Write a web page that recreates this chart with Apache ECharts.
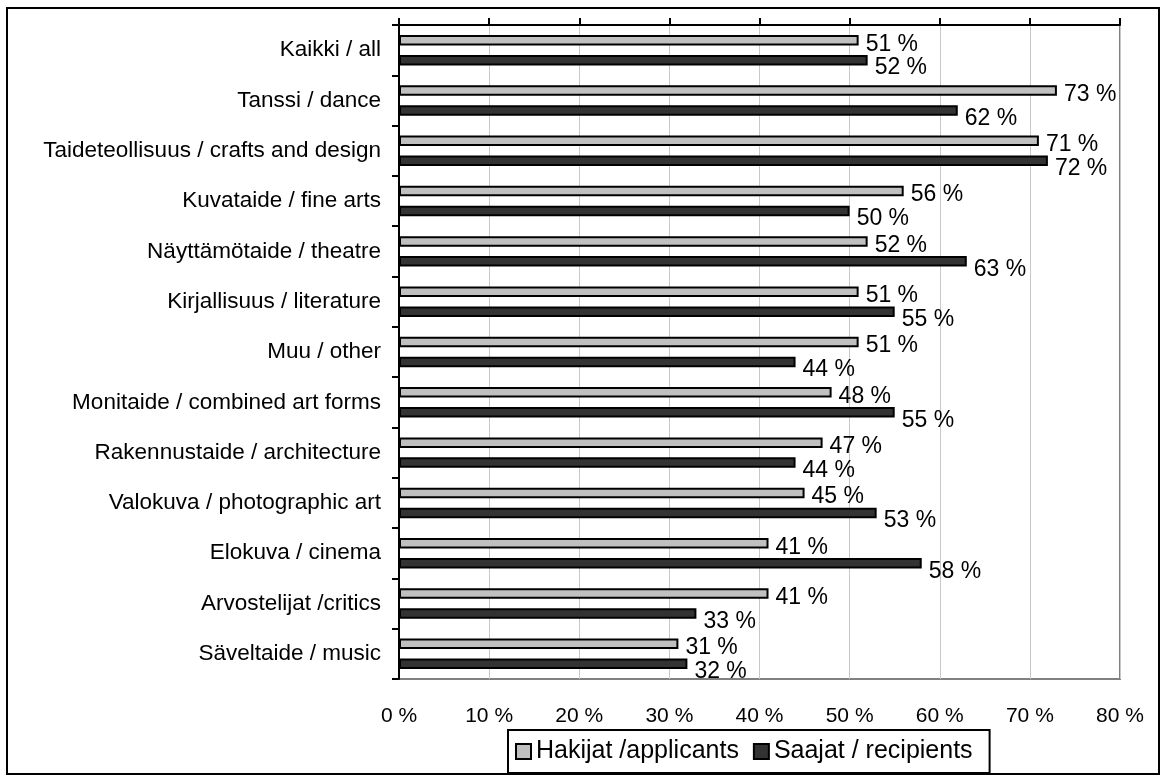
<!DOCTYPE html>
<html><head><meta charset="utf-8">
<script src="https://cdn.jsdelivr.net/npm/echarts@6/dist/echarts.min.js"></script>
<style>html,body{margin:0;padding:0;background:#fff}#c{width:1166px;height:780px}</style>
</head><body><div id="c"></div>
<script>
const categories = ["Kaikki / all","Tanssi / dance","Taideteollisuus / crafts and design","Kuvataide / fine arts","Näyttämötaide / theatre","Kirjallisuus / literature","Muu / other","Monitaide / combined art forms","Rakennustaide / architecture","Valokuva / photographic art","Elokuva / cinema","Arvostelijat /critics","Säveltaide / music"];
const applicants = [51,73,71,56,52,51,51,48,47,45,41,41,31];
const recipients = [52,62,72,50,63,55,44,55,44,53,58,33,32];
const seriesNames = ["Hakijat /applicants","Saajat / recipients"];
const font = "Liberation Sans, Arial, sans-serif";
const chart = echarts.init(document.getElementById('c'));
function lbl(dy){ return {show:true, position:'right', distance:7, offset:[0,dy], formatter:'{c} %', fontSize:23, color:'#000', fontFamily:font}; }
chart.setOption({
  animation:false,
  textStyle:{fontFamily:font},
  graphic:[{type:'rect', shape:{x:7,y:8,width:1152,height:766}, style:{fill:'none', stroke:'#000', lineWidth:2}, z:-1}],
  grid:{left:399, right:46, top:25, bottom:101, show:true, borderColor:'#808080', borderWidth:2, backgroundColor:'#fff'},
  legend:{left:508, top:730, itemWidth:15, itemHeight:15, itemGap:14, icon:'rect',
    borderColor:'#000', borderWidth:2, padding:[9,17,9,7], backgroundColor:'#fff',
    textStyle:{fontSize:25, color:'#000', fontFamily:font}, data:seriesNames},
  xAxis:[
    {type:'value', position:'top', min:0, max:80, interval:10,
     axisLine:{show:true, lineStyle:{color:'#000', width:2}},
     axisTick:{show:true, length:7, lineStyle:{color:'#000', width:2}},
     axisLabel:{show:false}, splitLine:{show:true, lineStyle:{color:'#c8c8c8', width:1}}},
    {type:'value', position:'bottom', min:0, max:80, interval:10,
     axisLine:{show:false}, axisTick:{show:false}, splitLine:{show:false},
     axisLabel:{show:true, margin:27, formatter:'{value} %', fontSize:21, color:'#000', fontFamily:font}}
  ],
  yAxis:{type:'category', inverse:true, data:categories,
    axisLine:{show:true, lineStyle:{color:'#000', width:2}},
    axisTick:{show:true, length:7, lineStyle:{color:'#000', width:2}},
    axisLabel:{fontSize:22.5, color:'#000', margin:18, fontFamily:font}},
  series:[
    {name:seriesNames[0], type:'bar', data:applicants, barWidth:10.5, barGap:'90%', xAxisIndex:0,
     itemStyle:{color:'#c0c0c0', borderColor:'#000', borderWidth:2}, label:lbl(4)},
    {name:seriesNames[1], type:'bar', data:recipients, barWidth:10.5, xAxisIndex:0,
     itemStyle:{color:'#333333', borderColor:'#000', borderWidth:2}, label:lbl(8)}
  ]
});
</script></body></html>
